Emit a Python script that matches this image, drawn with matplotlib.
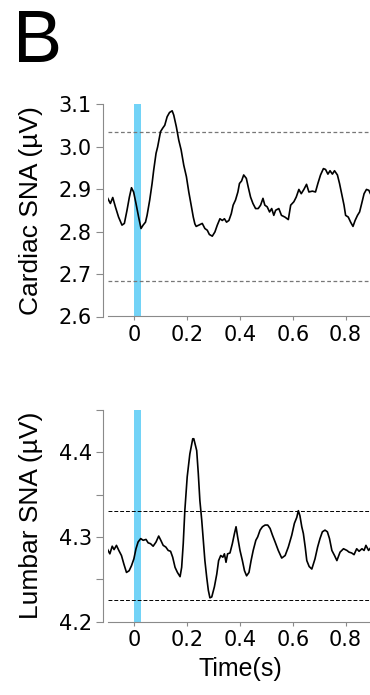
import numpy as np
from matplotlib import pyplot as plt

# cardiac SNA trace (time in s, value in uV)
t_card = [-0.101, -0.091, -0.082, -0.072, -0.060, -0.047, -0.038, -0.028, -0.019, -0.011,
          -0.003, 0.006, 0.016, 0.025, 0.033, 0.042, 0.048, 0.058, 0.067, 0.073,
          0.082, 0.088, 0.099, 0.107, 0.115, 0.124, 0.133, 0.143, 0.149, 0.159,
          0.168, 0.177, 0.187, 0.197, 0.206, 0.215, 0.223, 0.229, 0.234, 0.244,
          0.257, 0.267, 0.276, 0.284, 0.295, 0.305, 0.314, 0.324, 0.333, 0.341,
          0.349, 0.358, 0.367, 0.374, 0.383, 0.392, 0.398, 0.406, 0.414, 0.424,
          0.431, 0.440, 0.449, 0.459, 0.469, 0.478, 0.487, 0.494, 0.503, 0.512,
          0.520, 0.528, 0.535, 0.547, 0.557, 0.570, 0.583, 0.592, 0.604, 0.613,
          0.623, 0.632, 0.642, 0.652, 0.661, 0.674, 0.686, 0.695, 0.705, 0.716,
          0.724, 0.733, 0.741, 0.750, 0.758, 0.769, 0.777, 0.785, 0.794, 0.800,
          0.810, 0.819, 0.828, 0.836, 0.845, 0.853, 0.861, 0.870, 0.879, 0.888, 0.897]
v_card = [2.878, 2.866, 2.880, 2.858, 2.834, 2.815, 2.819, 2.850, 2.881, 2.903,
          2.893, 2.866, 2.834, 2.807, 2.815, 2.822, 2.838, 2.874, 2.913, 2.944,
          2.984, 2.999, 3.035, 3.043, 3.050, 3.070, 3.080, 3.084, 3.074, 3.046,
          3.015, 2.992, 2.956, 2.929, 2.893, 2.862, 2.834, 2.818, 2.812, 2.815,
          2.819, 2.807, 2.803, 2.793, 2.789, 2.799, 2.815, 2.830, 2.826, 2.830,
          2.822, 2.826, 2.842, 2.862, 2.874, 2.893, 2.913, 2.919, 2.933, 2.925,
          2.905, 2.881, 2.866, 2.854, 2.854, 2.862, 2.878, 2.862, 2.858, 2.846,
          2.854, 2.838, 2.850, 2.854, 2.838, 2.834, 2.828, 2.862, 2.870, 2.881,
          2.899, 2.889, 2.899, 2.911, 2.893, 2.895, 2.893, 2.913, 2.933, 2.948,
          2.946, 2.935, 2.943, 2.935, 2.943, 2.933, 2.913, 2.889, 2.862, 2.838,
          2.834, 2.822, 2.812, 2.826, 2.838, 2.846, 2.866, 2.889, 2.899, 2.897, 2.885]
card_limits = [3.033, 2.683]

# lumbar SNA trace
t_lumb = [-0.103, -0.093, -0.084, -0.077, -0.068, -0.059, -0.049, -0.040, -0.030, -0.020,
          -0.011, -0.002, 0.006, 0.014, 0.024, 0.033, 0.044, 0.052, 0.061, 0.071,
          0.082, 0.092, 0.100, 0.109, 0.119, 0.128, 0.137, 0.145, 0.154, 0.163,
          0.173, 0.179, 0.185, 0.191, 0.200, 0.210, 0.221, 0.225, 0.236, 0.242,
          0.248, 0.255, 0.261, 0.267, 0.274, 0.280, 0.286, 0.293, 0.303, 0.312,
          0.319, 0.327, 0.335, 0.341, 0.347, 0.353, 0.362, 0.371, 0.379, 0.385,
          0.391, 0.400, 0.409, 0.417, 0.425, 0.434, 0.442, 0.450, 0.460, 0.467,
          0.476, 0.485, 0.495, 0.505, 0.514, 0.523, 0.533, 0.545, 0.558, 0.571,
          0.583, 0.596, 0.606, 0.615, 0.621, 0.627, 0.634, 0.640, 0.647, 0.653,
          0.662, 0.672, 0.684, 0.694, 0.703, 0.712, 0.722, 0.731, 0.739, 0.748,
          0.758, 0.767, 0.779, 0.792, 0.805, 0.813, 0.823, 0.832, 0.842, 0.851,
          0.862, 0.870, 0.877, 0.887, 0.897]
v_lumb = [4.286, 4.280, 4.289, 4.285, 4.290, 4.284, 4.278, 4.268, 4.258, 4.260,
          4.266, 4.274, 4.286, 4.294, 4.298, 4.296, 4.297, 4.293, 4.292, 4.289,
          4.294, 4.301, 4.296, 4.290, 4.288, 4.284, 4.283, 4.276, 4.264, 4.258,
          4.253, 4.264, 4.292, 4.331, 4.371, 4.398, 4.416, 4.416, 4.402, 4.375,
          4.343, 4.320, 4.296, 4.272, 4.252, 4.237, 4.228, 4.229, 4.241, 4.256,
          4.272, 4.278, 4.276, 4.280, 4.270, 4.280, 4.281, 4.292, 4.304, 4.312,
          4.300, 4.284, 4.272, 4.260, 4.254, 4.258, 4.272, 4.284, 4.296, 4.300,
          4.308, 4.312, 4.314, 4.314, 4.310, 4.302, 4.294, 4.284, 4.275, 4.278,
          4.288, 4.302, 4.316, 4.323, 4.331, 4.325, 4.312, 4.304, 4.288, 4.272,
          4.265, 4.262, 4.274, 4.288, 4.298, 4.306, 4.308, 4.306, 4.298, 4.284,
          4.278, 4.272, 4.282, 4.286, 4.284, 4.282, 4.281, 4.279, 4.286, 4.283,
          4.286, 4.284, 4.290, 4.284, 4.288]
lumb_limits = [4.331, 4.226]

stim = (0.0, 0.025)
xticks = [0, 0.2, 0.4, 0.6, 0.8]
xticklabels = ['0', '0.2', '0.4', '0.6', '0.8']

W, H = 370, 695
fig = plt.figure(figsize=(W / 100, H / 100), dpi=100)

def px_axes(x0, y0, x1, y1):
    # axes box from pixel corners (top-left origin)
    return fig.add_axes([x0 / W, 1 - y1 / H, (x1 - x0) / W, (y1 - y0) / H])

ax1 = px_axes(108, 104, 372, 316.5)
ax2 = px_axes(108, 410, 372, 621.5)

lab_font = ['Liberation Sans', 'DejaVu Sans']

def style(ax, ylim, yticks, ylabel, minor=None):
    ax.set_xlim(-0.1, 0.9)
    ax.set_ylim(*ylim)
    for s in ['top', 'right']:
        ax.spines[s].set_visible(False)
    ax.spines['left'].set_position(('outward', 3.6))
    ax.spines['left'].set_color('#8a8a8a')
    ax.spines['bottom'].set_color('#8a8a8a')
    ax.set_yticks(yticks)
    if minor is not None:
        ax.set_yticks(minor, minor=True)
        ax.tick_params(axis='y', which='minor', length=5, width=0.8, color='#8a8a8a')
    ax.set_xticks(xticks)
    ax.set_xticklabels(xticklabels)
    ax.tick_params(axis='y', length=5, width=0.8, color='#8a8a8a', labelsize=15, pad=3)
    ax.tick_params(axis='x', length=3, width=0.8, color='#8a8a8a', labelsize=15, pad=3)
    ax.set_ylabel(ylabel, fontsize=19, family=lab_font)
    ax.yaxis.set_label_coords(-0.245, 0.5)

# top panel
ax1.axvspan(stim[0], stim[1], color='#72d3f7', lw=0)
for y in card_limits:
    ax1.axhline(y, color='#777777', lw=0.9, ls=(0, (3, 2)))
ax1.plot(t_card, v_card, color='black', lw=1.2)
style(ax1, (2.6, 3.1), [2.6, 2.7, 2.8, 2.9, 3.0, 3.1], 'Cardiac SNA (µV)')
ax1.set_yticklabels(['2.6', '2.7', '2.8', '2.9', '3.0', '3.1'])

# bottom panel
ax2.axvspan(stim[0], stim[1], color='#72d3f7', lw=0)
for y in lumb_limits:
    ax2.axhline(y, color='black', lw=0.7, ls=(0, (4, 2)))
ax2.plot(t_lumb, v_lumb, color='black', lw=1.2)
style(ax2, (4.2, 4.45), [4.2, 4.3, 4.4], 'Lumbar SNA (µV)', minor=[4.25, 4.35, 4.45])
ax2.set_xlabel('Time(s)', fontsize=18, family=lab_font, labelpad=5)

fig.text(13 / W, 1 - 62 / H, 'B', fontsize=53, family=lab_font, va='baseline')

fig.savefig('out.png', dpi=100)
